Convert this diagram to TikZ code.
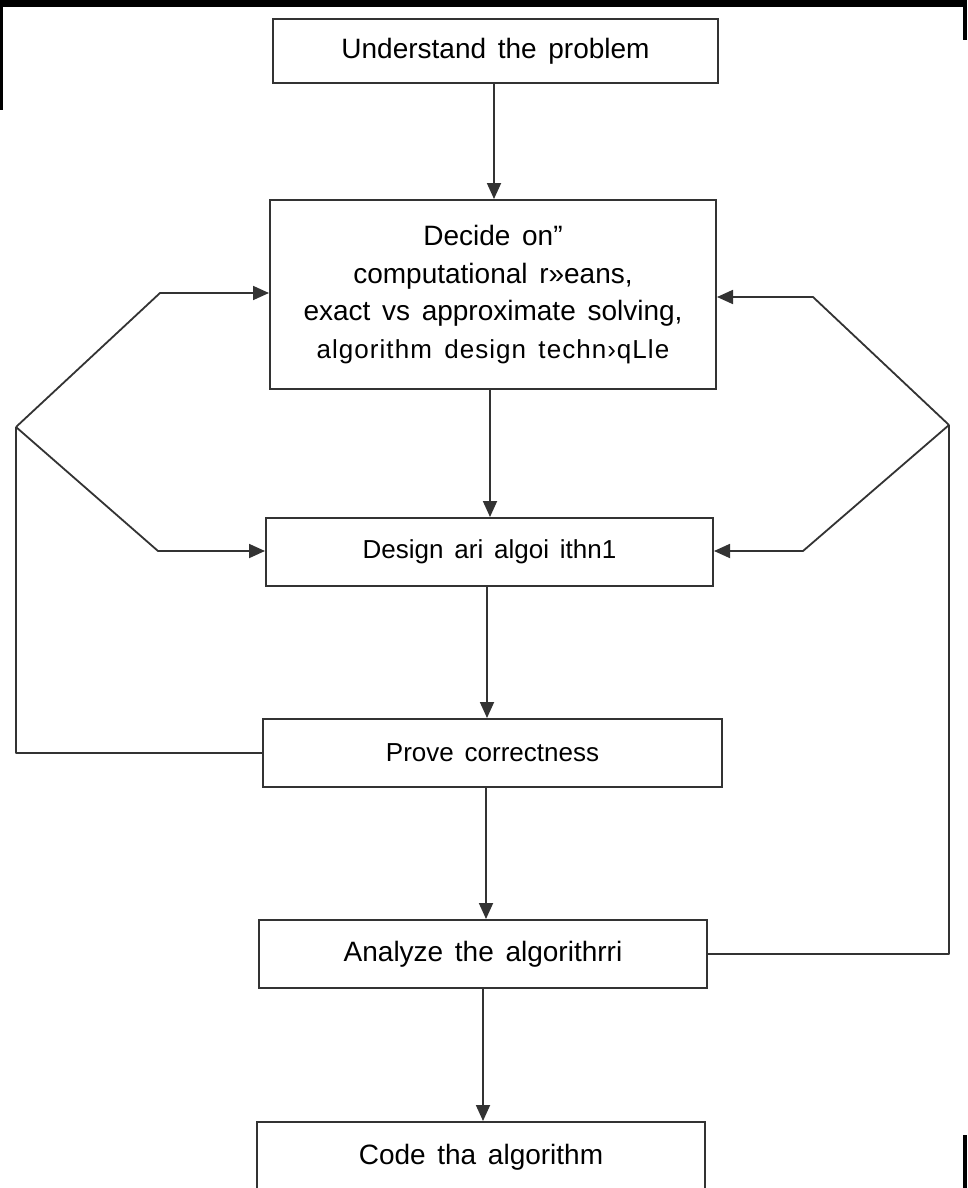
\documentclass[tikz,border=0pt]{standalone}
\usepackage{fontspec}
\setmainfont[WordSpace=1.5]{Liberation Sans}
\usetikzlibrary{arrows.meta}
\tikzset{
  box/.style={draw=black!80, line width=2pt, fill=white, inner sep=0pt, align=center},
  conn/.style={draw=black!80, line width=1.8pt, line join=round},
  arr/.style={conn, -{Triangle[length=16pt,width=14pt]}},
  big/.style={font=\fontsize{28}{37.5}\selectfont},
  mid/.style={font=\fontsize{26}{30}\selectfont},
}
\begin{document}
\begin{tikzpicture}[x=1pt,y=-1pt]
\clip (0,0) rectangle (967,1188);
\fill[white] (0,0) rectangle (967,1188);
% scan edges
\fill[black] (0,0) rectangle (967,7);
\fill[black] (0,0) rectangle (3,110);
\fill[black] (963,0) rectangle (967,40);
\fill[black] (963,1135) rectangle (967,1188);

% boxes
\node[box,big,minimum width=445pt,minimum height=64pt] (b1) at (495.5,51) {Understand the problem};
\node[box,big,minimum width=446pt,minimum height=189pt] (b2) at (493,294.5)
  {Decide on”\\computational r»eans,\\exact vs approximate solving,\\{\addfontfeatures{LetterSpace=4}\fontsize{26}{37.5}\selectfont algorithm design techn›qLle}};
\node[box,mid,minimum width=447pt,minimum height=68pt] (b3) at (489.5,552) {Design ari algoi ithn1};
\node[box,mid,minimum width=459pt,minimum height=68pt] (b4) at (492.5,753) {Prove correctness};
\node[box,big,minimum width=448pt,minimum height=68pt] (b5) at (483,954) {Analyze the algorithrri};
\node[box,big,minimum width=448pt,minimum height=70pt] (b6) at (481,1157) {Code tha algorithm};

% main flow
\coordinate (c12) at (494,0);
\coordinate (c23) at (490,0);
\coordinate (c34) at (487,0);
\coordinate (c45) at (486,0);
\coordinate (c56) at (483,0);
\draw[arr] (b1.south -| c12) -- (b2.north -| c12);
\draw[arr] (b2.south -| c23) -- (b3.north -| c23);
\draw[arr] (b3.south -| c34) -- (b4.north -| c34);
\draw[arr] (b4.south -| c45) -- (b5.north -| c45);
\draw[arr] (b5.south -| c56) -- (b6.north -| c56);

% left feedback
\coordinate (jl) at (16,427);
\coordinate (lu) at (160,293);
\coordinate (ld) at (158,551);
\draw[conn] (b4.west) -- (b4.west -| jl) -- (jl);
\draw[arr] (jl) -- (lu) -- (b2.west |- lu);
\draw[arr] (jl) -- (ld) -- (b3.west |- ld);

% right feedback
\coordinate (jr) at (949,425);
\coordinate (ru) at (813,297);
\coordinate (rd) at (803,551);
\draw[conn] (b5.east) -- (b5.east -| jr) -- (jr);
\draw[arr] (jr) -- (ru) -- (b2.east |- ru);
\draw[arr] (jr) -- (rd) -- (b3.east |- rd);
\end{tikzpicture}
\end{document}
